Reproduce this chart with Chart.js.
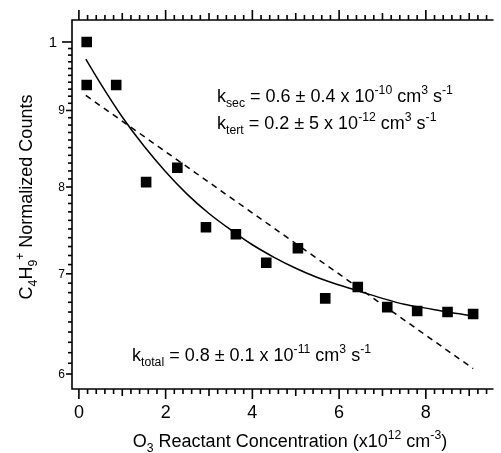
<!DOCTYPE html>
<html>
<head>
<meta charset="utf-8">
<script src="https://cdn.jsdelivr.net/npm/chart.js@4.4.1/dist/chart.umd.min.js"></script>
<style>
  html, body { margin: 0; padding: 0; background: #fff; }
  #wrap { width: 501px; height: 453px; }
</style>
</head>
<body>
<div id="wrap"><canvas id="chart"></canvas></div>
<script>
const FONT = 'Arial, "Liberation Sans", sans-serif';

// measured points
const concentration = [0.18, 0.18, 0.86, 1.55, 2.27, 2.93, 3.62, 4.32, 5.05, 5.68, 6.43, 7.11, 7.80, 8.50, 9.09];
const normCounts = [1.0, 0.936, 0.936, 0.806, 0.824, 0.752, 0.744, 0.712, 0.728, 0.674, 0.686, 0.665, 0.661, 0.660, 0.658];

// solid fit curve
const fitX = [0.16, 0.5, 1, 1.5, 2, 2.5, 3, 3.5, 4, 4.5, 5, 5.5, 6, 6.5, 7, 7.5, 8, 8.5, 9.1];
const fitY = [0.974, 0.938, 0.891, 0.852, 0.819, 0.791, 0.768, 0.749, 0.732, 0.718, 0.706, 0.696, 0.688, 0.681, 0.674, 0.668, 0.664, 0.660, 0.656];

// dashed single-exponential line
const lineX = [0.16, 9.09];
const lineY = [0.921, 0.605];

const xTicks = [0, 2, 4, 6, 8];
const yTicks = [0.6, 0.7, 0.8, 0.9, 1];
const yTickLabels = ['6', '7', '8', '9', '1'];

const toXY = (xs, ys) => xs.map((v, i) => ({ x: v, y: ys[i] }));

// text with sub/superscripts: [text, 'sub'|'sup'|undefined]
function richWidth(ctx, segs, size) {
  let w = 0;
  segs.forEach(([t, k]) => {
    ctx.font = (k ? size * 0.68 : size) + 'px ' + FONT;
    w += ctx.measureText(t).width;
  });
  return w;
}
function drawRich(ctx, x, y, segs, size) {
  let cx = x;
  ctx.textBaseline = 'alphabetic';
  ctx.textAlign = 'left';
  segs.forEach(([t, k]) => {
    const s = k ? size * 0.68 : size;
    ctx.font = s + 'px ' + FONT;
    const dy = k === 'sub' ? size * 0.3 : k === 'sup' ? -size * 0.42 : 0;
    ctx.fillText(t, cx, y + dy);
    cx += ctx.measureText(t).width;
  });
}

const ksecText = [['k'], ['sec', 'sub'], [' = 0.6 \u00b1 0.4 x 10'], ['-10', 'sup'], [' cm'], ['3', 'sup'], [' s'], ['-1', 'sup']];
const ktertText = [['k'], ['tert', 'sub'], [' = 0.2 \u00b1 5 x 10'], ['-12', 'sup'], [' cm'], ['3', 'sup'], [' s'], ['-1', 'sup']];
const ktotalText = [['k'], ['total', 'sub'], [' = 0.8 \u00b1 0.1 x 10'], ['-11', 'sup'], [' cm'], ['3', 'sup'], [' s'], ['-1', 'sup']];
const xTitle = [['O'], ['3', 'sub'], [' Reactant Concentration (x10'], ['12', 'sup'], [' cm'], ['-3', 'sup'], [')']];
const yTitle = [['C'], ['4', 'sub'], ['H'], ['9', 'sub'], ['+', 'sup'], [' Normalized Counts']];

const decorations = {
  id: 'decorations',
  afterDraw(chart) {
    const { ctx, chartArea: a, scales: { x, y } } = chart;
    ctx.save();
    ctx.setLineDash([]);
    ctx.strokeStyle = '#000';
    ctx.fillStyle = '#000';

    // frame: left, top, bottom
    ctx.lineWidth = 1.6;
    ctx.beginPath();
    ctx.moveTo(a.right, a.top);
    ctx.lineTo(a.left, a.top);
    ctx.lineTo(a.left, a.bottom);
    ctx.lineTo(a.right, a.bottom);
    ctx.stroke();

    // x ticks top and bottom, every 0.2
    ctx.lineWidth = 1.6;
    for (let i = 0; i <= 48; i++) {
      const px = x.getPixelForValue(i / 5);
      if (px > a.right - 1) break;
      const len = i % 10 === 0 ? 10 : i % 5 === 0 ? 7 : 5;
      ctx.beginPath();
      ctx.moveTo(px, a.bottom);
      ctx.lineTo(px, a.bottom + len);
      ctx.moveTo(px, a.top);
      ctx.lineTo(px, a.top - len);
      ctx.stroke();
    }
    // y ticks every 0.01
    for (let i = 60; i <= 100; i++) {
      const py = y.getPixelForValue(i / 100);
      const len = i === 100 ? 10 : i % 10 === 0 ? 6 : 4;
      ctx.beginPath();
      ctx.moveTo(a.left, py);
      ctx.lineTo(a.left - len, py);
      ctx.stroke();
    }

    // y tick labels
    ctx.textAlign = 'right';
    ctx.textBaseline = 'middle';
    yTicks.forEach((v, i) => {
      const big = v === 1;
      ctx.font = (big ? 15 : 12) + 'px ' + FONT;
      ctx.fillText(yTickLabels[i], big ? 57 : 65, y.getPixelForValue(v) + 0.5);
    });

    // annotations
    drawRich(ctx, 217, 102, ksecText, 18);
    drawRich(ctx, 217, 129, ktertText, 18);
    drawRich(ctx, 132, 361, ktotalText, 18);

    // axis titles
    const tw = richWidth(ctx, xTitle, 18);
    drawRich(ctx, 290 - tw / 2, 447, xTitle, 18);
    const yw = richWidth(ctx, yTitle, 18);
    ctx.translate(32, 197);
    ctx.rotate(-Math.PI / 2);
    drawRich(ctx, -yw / 2, 0, yTitle, 18);
    ctx.restore();
  }
};

new Chart(document.getElementById('chart'), {
  type: 'scatter',
  data: {
    datasets: [
      {
        label: 'data',
        data: toXY(concentration, normCounts),
        pointStyle: 'rect',
        pointRadius: 7.5,
        pointHoverRadius: 7.5,
        backgroundColor: '#000',
        borderColor: '#000',
        borderWidth: 0,
        showLine: false
      },
      {
        label: 'fit',
        data: toXY(fitX, fitY),
        showLine: true,
        borderColor: '#000',
        borderWidth: 1.5,
        pointRadius: 0,
        cubicInterpolationMode: 'monotone'
      },
      {
        label: 'single',
        data: toXY(lineX, lineY),
        showLine: true,
        borderColor: '#000',
        borderWidth: 1.5,
        borderDash: [6, 5],
        pointRadius: 0
      }
    ]
  },
  options: {
    responsive: true,
    maintainAspectRatio: false,
    animation: false,
    devicePixelRatio: 1,
    layout: { padding: { top: 20, left: 0, right: 0, bottom: 0 } },
    plugins: {
      legend: { display: false },
      tooltip: { enabled: false }
    },
    scales: {
      x: {
        type: 'linear',
        min: -0.159,
        max: 9.56,
        afterBuildTicks: (scale) => { scale.ticks = xTicks.map(v => ({ value: v })); },
        afterFit: (scale) => { scale.height = 64; },
        grid: { display: false, drawTicks: false },
        border: { display: false },
        ticks: {
          color: '#000',
          padding: 13,
          maxRotation: 0,
          font: { family: FONT, size: 18 }
        }
      },
      y: {
        type: 'logarithmic',
        min: 0.5863,
        max: 1.0344,
        afterBuildTicks: (scale) => { scale.ticks = yTicks.map(v => ({ value: v })); },
        afterFit: (scale) => { scale.width = 72; },
        grid: { display: false, drawTicks: false },
        border: { display: false },
        ticks: { display: false }
      }
    }
  },
  plugins: [decorations]
});
</script>
</body>
</html>
